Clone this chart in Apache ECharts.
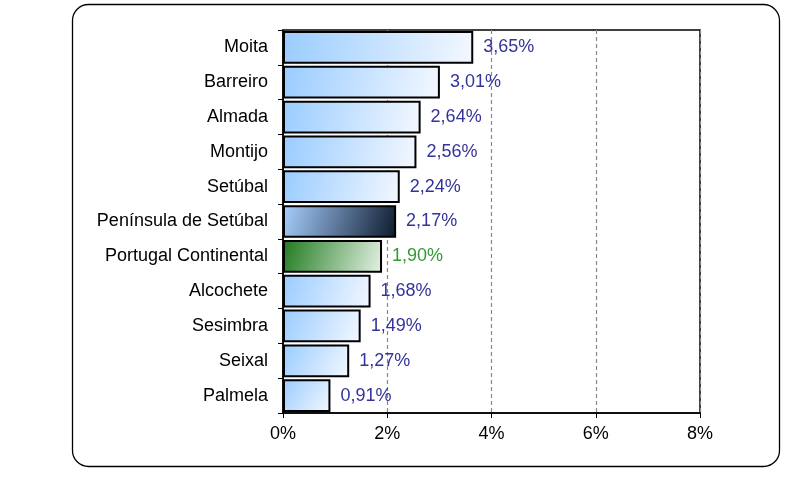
<!DOCTYPE html>
<html><head><meta charset="utf-8">
<script src="https://cdn.jsdelivr.net/npm/echarts@6/dist/echarts.min.js"></script>
<style>html,body{margin:0;padding:0;background:#fff}#c{width:812px;height:478px}</style>
</head><body><div id="c"></div>
<script>
var categories = ["Moita","Barreiro","Almada","Montijo","Setúbal","Península de Setúbal","Portugal Continental","Alcochete","Sesimbra","Seixal","Palmela"];
var values = [3.65,3.01,2.64,2.56,2.24,2.17,1.90,1.68,1.49,1.27,0.91];
var xTicks = [0,2,4,6,8];

function grad(c0,c1){return new echarts.graphic.LinearGradient(0,0,1,1,[{offset:0,color:c0},{offset:1,color:c1}]);}
var blue = grad('#99ccff','#f4f8ff');
var navy = grad('#a8d0ff','#0d1a2e');
var green = grad('#1f7a1f','#e6f2e6');

var data = values.map(function(v,i){
  var c = categories[i];
  var col = blue, lc = '#333399';
  if(c==="Península de Setúbal") col = navy;
  if(c==="Portugal Continental"){ col = green; lc = '#339933'; }
  return {value:v, itemStyle:{color:col}, label:{color:lc}};
});

var FF = 'Liberation Sans, Arial';
var chart = echarts.init(document.getElementById('c'),null,{renderer:'canvas'});
chart.setOption({
  animation:false,
  graphic:[{type:'rect',shape:{x:72.5,y:4.5,width:707,height:462,r:16},style:{fill:'none',stroke:'#000',lineWidth:1.3},silent:true,z:-1}],
  grid:{left:283,right:112,top:30,bottom:65,show:true,borderColor:'#000',borderWidth:1.5,backgroundColor:'transparent'},
  xAxis:{type:'value',min:0,max:8,interval:2,
    axisLine:{show:true,lineStyle:{color:'#000',width:1.5}},
    axisTick:{show:true,length:5,lineStyle:{color:'#000'}},
    axisLabel:{formatter:function(v){return xTicks.indexOf(v)>=0? v+'%':'';},color:'#000',fontFamily:FF,fontSize:18,margin:12},
    splitLine:{show:true,lineStyle:{color:'#888',type:[4,3],width:1.2}}},
  yAxis:{type:'category',inverse:true,data:categories,
    axisLine:{show:true,lineStyle:{color:'#000',width:1.5}},
    axisTick:{show:true,length:5,alignWithLabel:false,lineStyle:{color:'#000'}},
    axisLabel:{color:'#000',fontFamily:FF,fontSize:18,margin:15}},
  series:[{type:'bar',data:data,barCategoryGap:'6%',
    itemStyle:{borderColor:'#000',borderWidth:2},
    label:{show:true,position:'right',distance:10,fontFamily:FF,fontSize:18,
      formatter:function(p){return p.value.toFixed(2).replace('.',',')+'%';}}}]
});
</script></body></html>
